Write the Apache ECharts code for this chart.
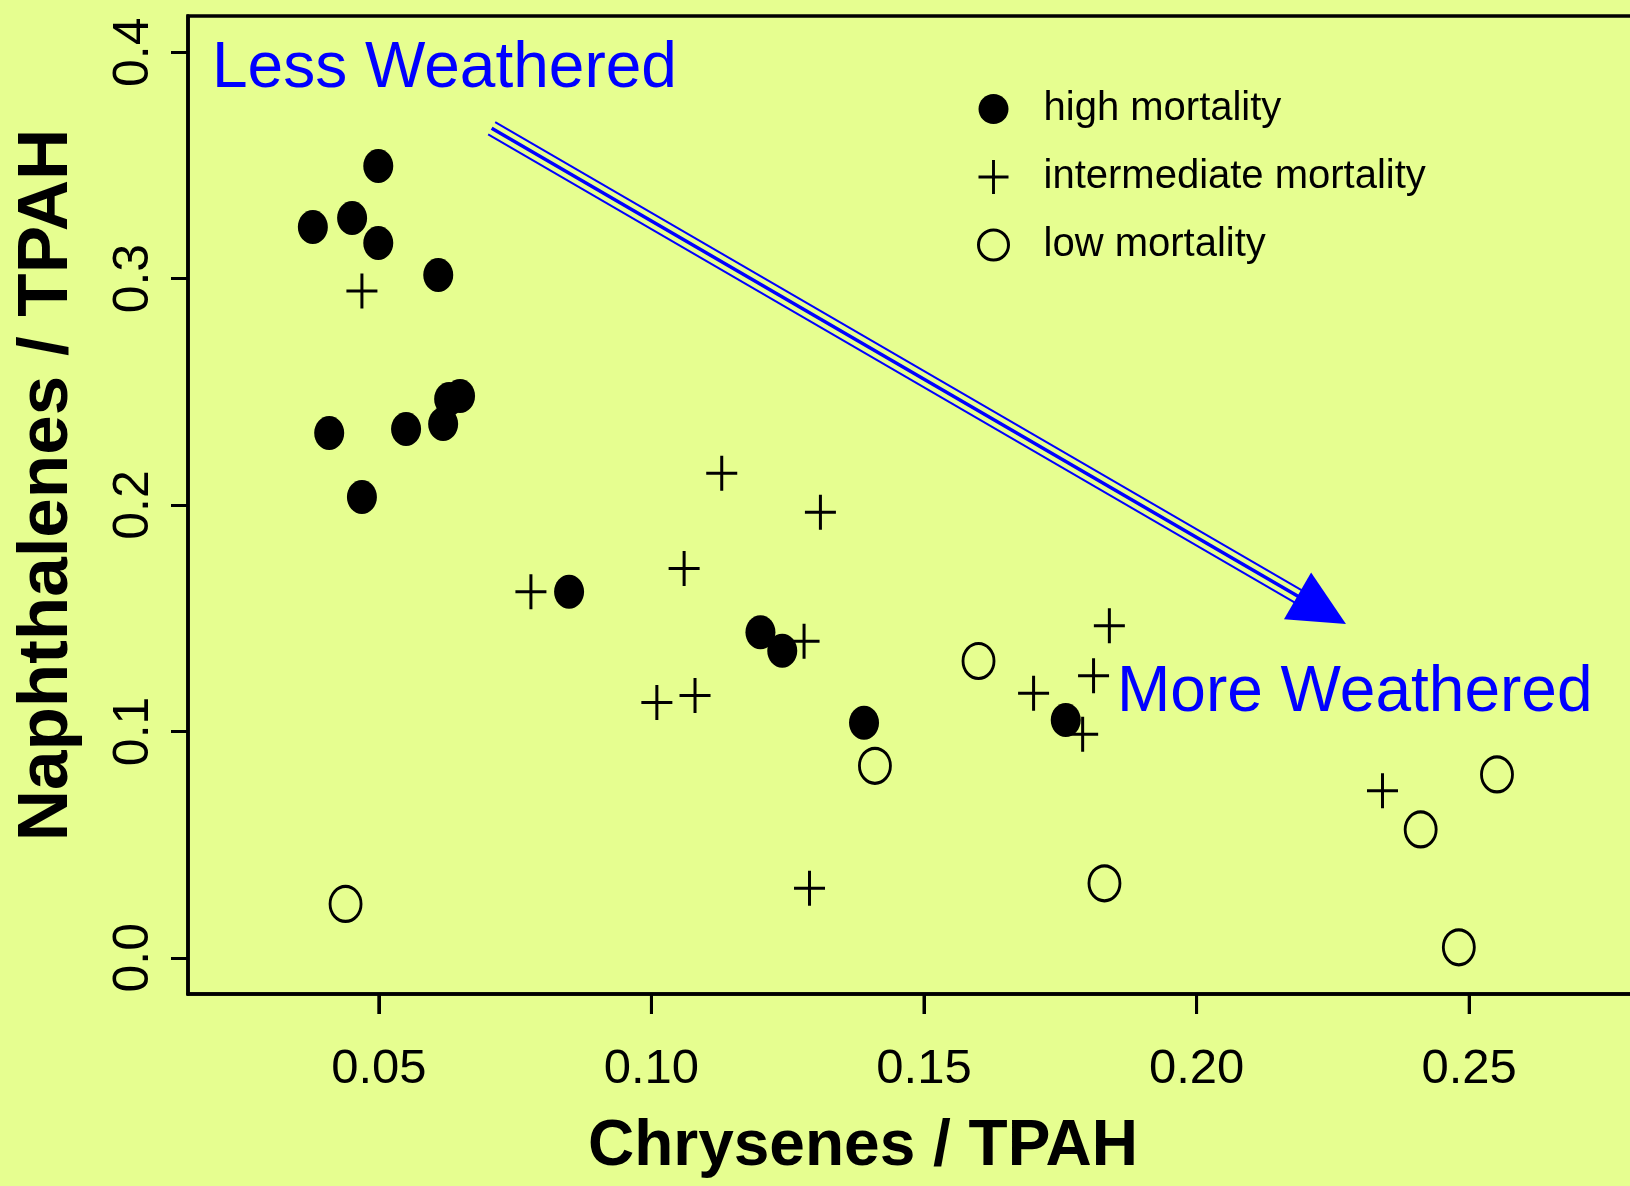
<!DOCTYPE html>
<html>
<head>
<meta charset="utf-8">
<script src="https://cdn.jsdelivr.net/npm/echarts@6/dist/echarts.min.js"></script>
<style>
html,body{margin:0;padding:0;background:#e6fe90;}
#c{width:1630px;height:1186px;}
</style>
</head>
<body>
<div id="c"></div>
<script>
// ---- data ----
const seriesNames = ['high mortality', 'intermediate mortality', 'low mortality'];

const highX = [0.0499, 0.0451, 0.0379, 0.0499, 0.0609, 0.0629, 0.0649, 0.0618, 0.0550, 0.0409, 0.0469, 0.0849, 0.1200, 0.1240, 0.1390, 0.1760];
const highY = [0.3497, 0.3268, 0.3228, 0.3157, 0.3016, 0.2468, 0.2481, 0.2358, 0.2336, 0.2318, 0.2035, 0.1617, 0.1438, 0.1356, 0.1038, 0.1050];

const interX = [0.0469, 0.1129, 0.1310, 0.1060, 0.0779, 0.1280, 0.1010, 0.1080, 0.1701, 0.1791, 0.1811, 0.1840, 0.1290, 0.2341];
const interY = [0.2945, 0.2140, 0.1968, 0.1719, 0.1617, 0.1398, 0.1128, 0.1158, 0.1168, 0.0987, 0.1246, 0.1467, 0.0307, 0.0738];

const lowX = [0.0439, 0.1410, 0.1600, 0.1831, 0.2411, 0.2551, 0.2481];
const lowY = [0.0238, 0.0848, 0.1311, 0.0329, 0.0567, 0.0810, 0.0046];

const xTicks = [0.05, 0.10, 0.15, 0.20, 0.25];
const xTickLabels = ['0.05', '0.10', '0.15', '0.20', '0.25'];
const yTicks = [0.0, 0.1, 0.2, 0.3, 0.4];
const yTickLabels = ['0.0', '0.1', '0.2', '0.3', '0.4'];

const xAxisName = 'Chrysenes / TPAH';
const yAxisName = 'Naphthalenes / TPAH';
const annotationTop = 'Less Weathered';
const annotationBottom = 'More Weathered';
// arrow endpoints in data coordinates (start, tip)
const arrowFrom = [0.0707, 0.3664];
const arrowTo = [0.2274, 0.1474];

// ---- styling ----
const FONT = '"Liberation Sans", Arial, Helvetica, sans-serif';
const BG = '#e6fe90';
const ELLIPSE = 'path://M50,0C77.6,0,100,22.4,100,50C100,77.6,77.6,100,50,100C22.4,100,0,77.6,0,50C0,22.4,22.4,0,50,0Z';
const PLUS = 'path://M14,0H17V16H31V19H17V35H14V19H0V16H14Z';
const X_MIN = 0.015, X_MAX = 0.285, Y_MIN = -0.016, Y_MAX = 0.416;

function zip(xs, ys) { return xs.map((x, i) => [x, ys[i]]); }
function tickLabel(ticks, labels) {
  return function (v) {
    const i = ticks.findIndex(t => Math.abs(t - v) < 1e-9);
    return i >= 0 ? labels[i] : '';
  };
}

const chart = echarts.init(document.getElementById('c'), null, {renderer: 'canvas'});

const option = {
  backgroundColor: BG,
  animation: false,
  textStyle: {fontFamily: FONT, color: '#000'},
  grid: {
    left: 188, top: 16, width: 1472, height: 978,
    show: true, borderColor: '#000', borderWidth: 3.5,
    containLabel: false, outerBoundsMode: 'none'
  },
  xAxis: {
    type: 'value', min: X_MIN, max: X_MAX, position: 'bottom',
    name: xAxisName, nameLocation: 'middle', nameGap: 121, nameMoveOverlap: false,
    nameTextStyle: {fontSize: 64, fontWeight: 'bold', color: '#000', fontFamily: FONT, padding: [0, 122, 0, 0]},
    axisLine: {show: true, onZero: false, lineStyle: {color: '#000', width: 3.5}},
    splitLine: {show: false},
    axisTick: {show: true, length: 20, lineStyle: {color: '#000', width: 3}, customValues: xTicks},
    axisLabel: {show: true, margin: 51, fontSize: 49, color: '#000', fontFamily: FONT,
      customValues: xTicks, formatter: tickLabel(xTicks, xTickLabels)}
  },
  yAxis: {
    type: 'value', min: Y_MIN, max: Y_MAX, position: 'left',
    name: yAxisName, nameLocation: 'middle', nameGap: 105, nameMoveOverlap: false,
    nameTextStyle: {fontSize: 71, fontWeight: 'bold', color: '#000', fontFamily: FONT, padding: [0, 0, 0, 40]},
    axisLine: {show: true, onZero: false, lineStyle: {color: '#000', width: 3.5}},
    splitLine: {show: false},
    axisTick: {show: true, length: 17, lineStyle: {color: '#000', width: 3}, customValues: yTicks},
    axisLabel: {show: true, margin: 29, rotate: 90, fontSize: 50, color: '#000', fontFamily: FONT,
      customValues: yTicks, formatter: tickLabel(yTicks, yTickLabels)}
  },
  legend: {
    orient: 'vertical', left: 977, top: 89, padding: 0, itemGap: 28,
    itemWidth: 30, itemHeight: 35, selectedMode: false,
    textStyle: {fontSize: 40, color: '#000', fontFamily: FONT, padding: [0, 0, 0, 30]},
    data: [
      {name: seriesNames[0], itemStyle: {color: '#000', borderWidth: 0}},
      {name: seriesNames[1], itemStyle: {color: '#000', borderWidth: 0}},
      {name: seriesNames[2], itemStyle: {color: 'rgba(0,0,0,0)', borderColor: '#000', borderWidth: 3}}
    ]
  },
  series: [
    {
      name: seriesNames[0], type: 'scatter', data: zip(highX, highY),
      symbol: ELLIPSE, symbolSize: [30, 34], silent: true,
      itemStyle: {color: '#000', borderWidth: 0, opacity: 1},
      emphasis: {disabled: true}
    },
    {
      name: seriesNames[1], type: 'scatter', data: zip(interX, interY),
      symbol: PLUS, symbolSize: [31, 35], silent: true,
      itemStyle: {color: '#000', borderWidth: 0, opacity: 1},
      emphasis: {disabled: true}
    },
    {
      name: seriesNames[2], type: 'scatter', data: zip(lowX, lowY),
      symbol: ELLIPSE, symbolSize: [31, 35], silent: true,
      itemStyle: {color: 'rgba(0,0,0,0)', borderColor: '#000', borderWidth: 3, opacity: 1},
      emphasis: {disabled: true}
    }
  ]
};

chart.setOption(option);

// ---- x tick marks placed through the axis scale (fallback so they are always visible) ----
const xTickMarks = xTicks.map(function (t) {
  const p = chart.convertToPixel({gridIndex: 0}, [t, Y_MIN]);
  return {
    type: 'line', silent: true, z: 20,
    shape: {x1: p[0], y1: p[1], x2: p[0], y2: p[1] + 20},
    style: {stroke: '#000', lineWidth: 3}
  };
});

// ---- annotation arrow & texts anchored to data coordinates ----
const p0 = chart.convertToPixel({gridIndex: 0}, arrowFrom);
const p1 = chart.convertToPixel({gridIndex: 0}, arrowTo);
const dx = p1[0] - p0[0], dy = p1[1] - p0[1];
const L = Math.hypot(dx, dy);
const ux = dx / L, uy = dy / L;
const nx = -uy, ny = ux;
const headLen = 56, headHalf = 27;
const bx = p1[0] - ux * headLen, by = p1[1] - uy * headLen;
const BLUE = '#0000ff';
const shaft = [[-7, 2], [0, 3.5], [7, 2]].map(function (d) {
  const o = d[0];
  return {
    type: 'line', silent: true, z: 10,
    shape: {x1: p0[0] + nx * o, y1: p0[1] + ny * o, x2: bx + nx * o + ux * 6, y2: by + ny * o + uy * 6},
    style: {stroke: BLUE, lineWidth: d[1]}
  };
});
const head = {
  type: 'polygon', silent: true, z: 11,
  shape: {points: [[p1[0], p1[1]], [bx + nx * headHalf, by + ny * headHalf], [bx - nx * headHalf, by - ny * headHalf]]},
  style: {fill: BLUE}
};
const texts = [
  {type: 'text', silent: true, z: 12, x: 212, y: 69,
   style: {text: annotationTop, fontSize: 64, fontFamily: FONT, fill: BLUE, verticalAlign: 'middle', align: 'left'}},
  {type: 'text', silent: true, z: 12, x: 1117, y: 693,
   style: {text: annotationBottom, fontSize: 64, fontFamily: FONT, fill: BLUE, verticalAlign: 'middle', align: 'left'}}
];

chart.setOption({graphic: xTickMarks.concat(shaft).concat([head]).concat(texts)});
</script>
</body>
</html>
